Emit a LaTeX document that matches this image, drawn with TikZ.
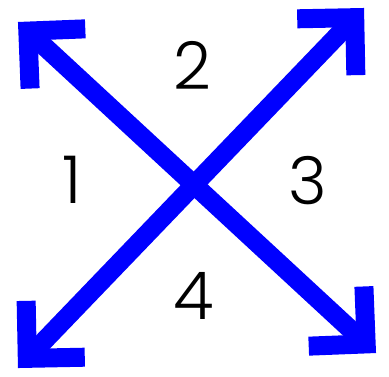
\documentclass[tikz,border=0pt]{standalone}
\usepackage{fontspec}
\setmainfont{Poppins}[UprightFont=* Light]
\usepackage{tikz}
\usetikzlibrary{calc}
\definecolor{arrowblue}{RGB}{0, 0, 255}
\tikzset{
  shaft/.style={draw=arrowblue, line width=19pt, shorten <=13.4pt, shorten >=13.4pt},
  barb/.style={draw=arrowblue, line width=19pt, line join=miter, line cap=butt},
  quadrant/.style={font=\fontsize{66}{66}\selectfont, inner sep=0pt}
}

\begin{document}
\begin{tikzpicture}[x=1pt, y=-1pt]
  \useasboundingbox (0,0) rectangle (389,376);
  % arrow ends
  \coordinate (nw) at (18,22);
  \coordinate (ne) at (364,8);
  \coordinate (sw) at (18,368);
  \coordinate (se) at (376,353);
  \draw[shaft] (se) -- (nw);
  \draw[shaft] (sw) -- (ne);
  % heads
  \foreach \tip/\tail in {nw/se, se/nw, sw/ne, ne/sw} {
    \coordinate (k) at ($(\tip)!13.4pt!(\tail)$);
    \draw[barb] ($(k)!57.5pt!45:(\tail)$) -- (k) -- ($(k)!57.5pt!-45:(\tail)$);
  }
  % quadrant numbers
  \node[quadrant] (q1) at (72,180) {1};
  \node[quadrant] (q2) at (192,65) {2};
  \node[quadrant] (q3) at (308,181) {3};
  \node[quadrant] (q4) at (194,296) {4};
\end{tikzpicture}
\end{document}
